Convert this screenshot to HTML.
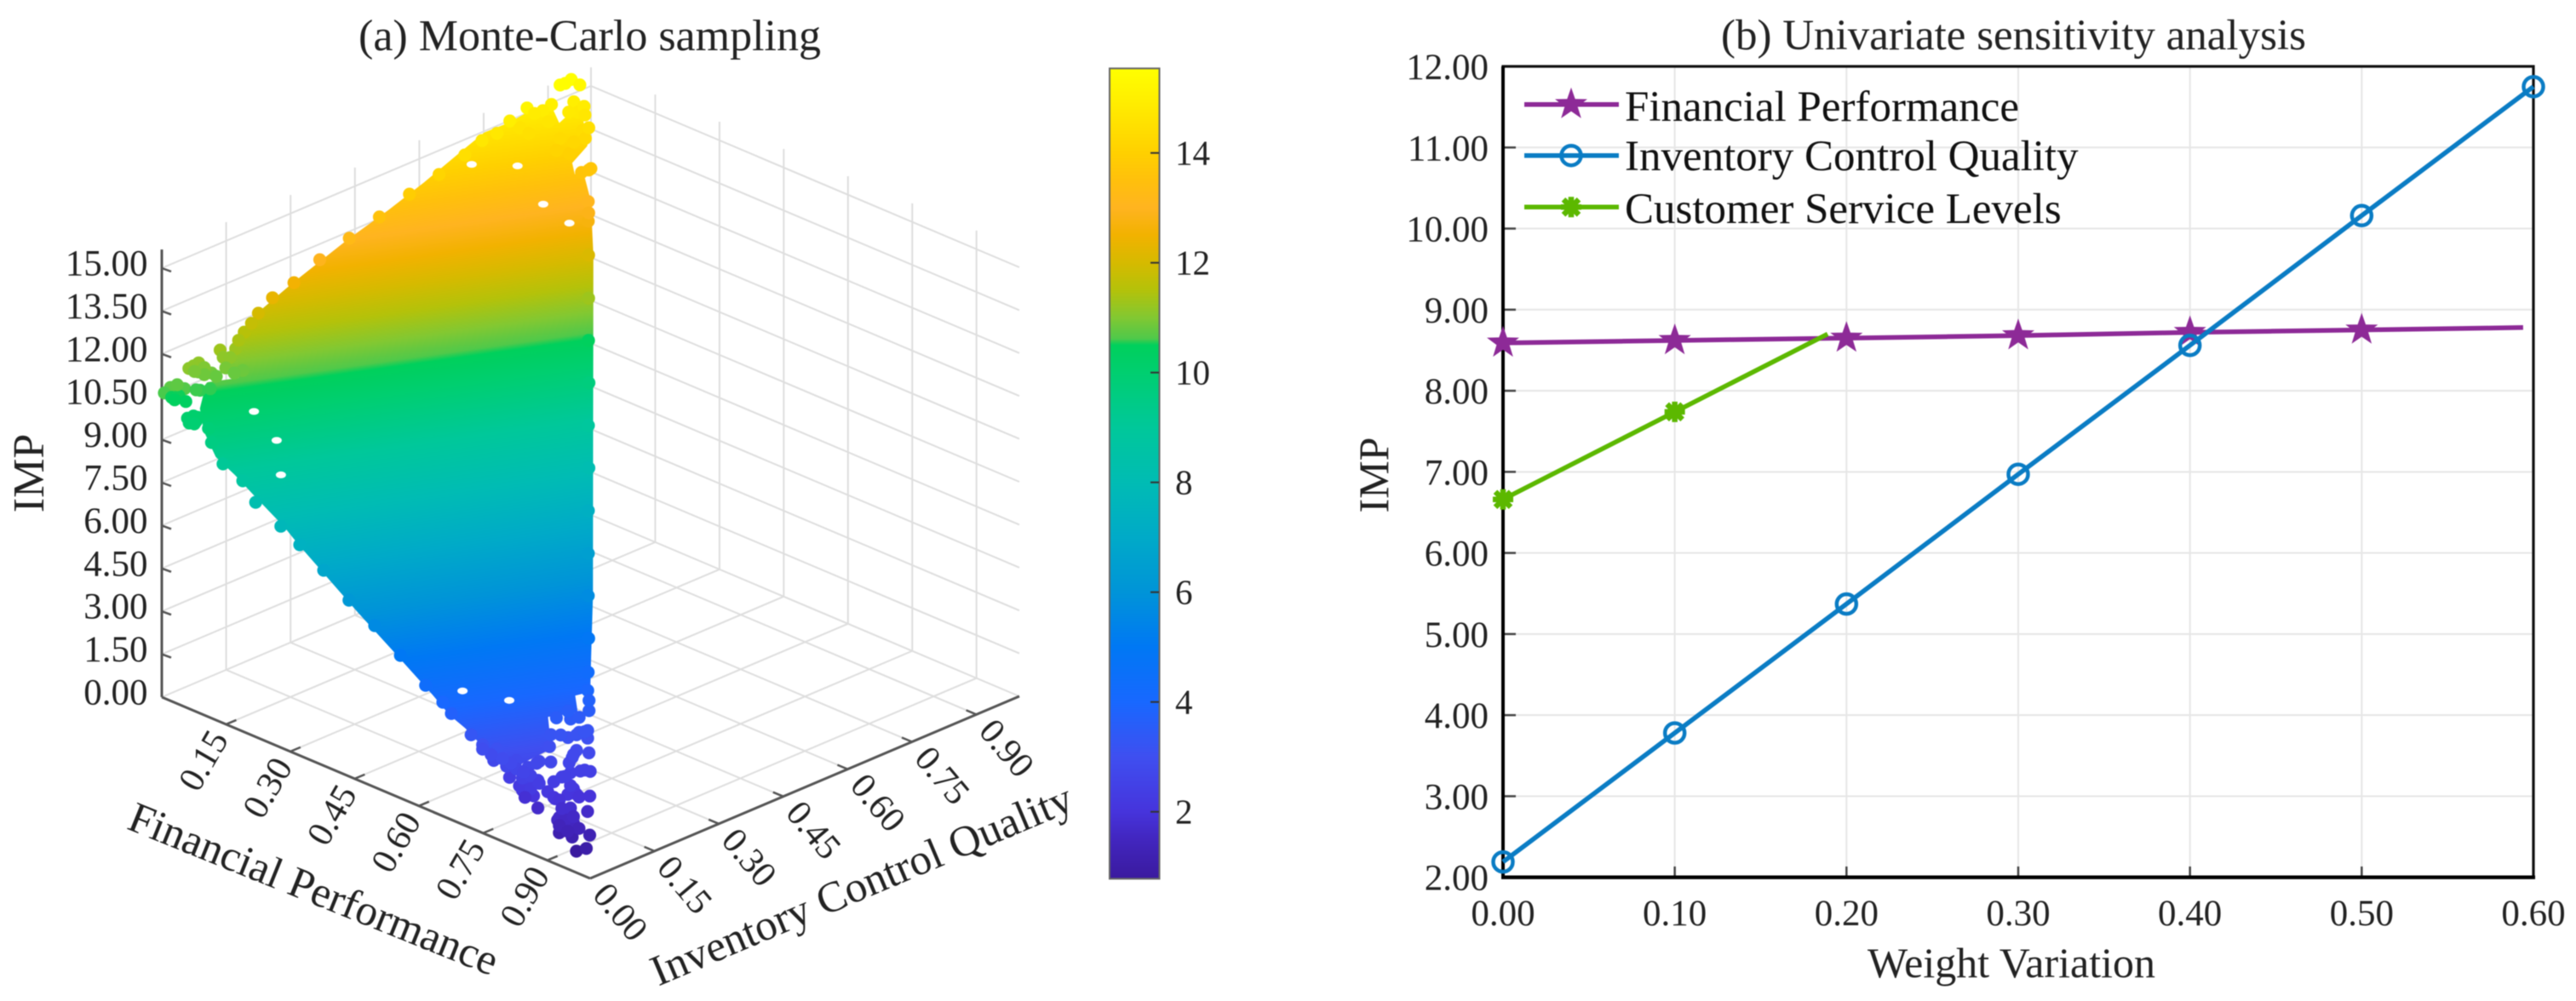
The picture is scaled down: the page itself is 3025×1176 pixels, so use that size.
<!DOCTYPE html>
<html lang="en">
<head>
<meta charset="utf-8">
<title>Monte-Carlo sampling and univariate sensitivity analysis</title>
<style>
html,body{margin:0;padding:0;background:#fff;width:3025px;height:1176px;overflow:hidden}
svg{display:block;filter:blur(.6px)}
text{font-family:"Liberation Serif",serif;fill:#222}
</style>
</head>
<body>
<svg id="figure" xmlns="http://www.w3.org/2000/svg" width="3025" height="1176" viewBox="0 0 3025 1176">
  <defs>
    <linearGradient id="cloud-gradient" gradientUnits="userSpaceOnUse"></linearGradient>
    <linearGradient id="colorbar-gradient" gradientUnits="userSpaceOnUse"></linearGradient>
  </defs>
  <g id="panel-a">
    <text x="421" y="59" font-size="52">(a) Monte-Carlo sampling</text>
    <g id="a-grid" stroke="#dedede" stroke-width="2" fill="none"></g>
    <g id="a-axes" stroke="#555" fill="none"></g>
    <g id="a-ticklabels"></g>
    <g id="a-cloud"></g>
    <text font-size="52" text-anchor="middle" transform="translate(51 556) rotate(-90)">IMP</text>
    <text font-size="51" text-anchor="middle" dominant-baseline="central" transform="translate(368 1045) rotate(22)">Financial Performance</text>
    <text font-size="51" text-anchor="middle" dominant-baseline="central" transform="translate(1012 1040) rotate(-23)">Inventory Control Quality</text>
    <g id="a-colorbar"></g>
  </g>
  <g id="panel-b">
    <text x="2021" y="58" font-size="51">(b) Univariate sensitivity analysis</text>
    <g id="b-grid" stroke="#e6e6e6" stroke-width="2"></g>
    <g id="b-ticks" stroke="#444" stroke-width="2.5"></g>
    <g id="b-labels"></g>
    <rect x="1765" y="78" width="1210" height="952.7" fill="none" stroke="#111" stroke-width="3.2"></rect>
    <line x1="1765" y1="78" x2="1765" y2="1032" stroke="#000" stroke-width="4"></line>
    <line x1="1763" y1="1030.7" x2="2977" y2="1030.7" stroke="#000" stroke-width="4.4"></line>
    <g id="b-series"></g>
    <g id="b-legend">
      <text x="1908" y="142" font-size="51" style="fill:#111">Financial Performance</text>
      <text x="1908" y="200" font-size="51" style="fill:#111">Inventory Control Quality</text>
      <text x="1908" y="262" font-size="51" style="fill:#111">Customer Service Levels</text>
    </g>
    <text font-size="50" text-anchor="middle" transform="translate(1630 558) rotate(-90)">IMP</text>
    <text x="2362" y="1148" font-size="50" text-anchor="middle">Weight Variation</text>
  </g>
</svg>
<script>
/* ---------- Panel (a): axis ticks ---------- */
const weightTicks = [0.15, 0.30, 0.45, 0.60, 0.75, 0.90];
const inventoryTicks = [0.00, 0.15, 0.30, 0.45, 0.60, 0.75, 0.90];
const impTicks = [0, 1.5, 3, 4.5, 6, 7.5, 9, 10.5, 12, 13.5, 15];
const colorbarTicks = [2, 4, 6, 8, 10, 12, 14];
const impTop = 15.65;
const colorMin = 0.78;
const colorMax = 15.54;

/* Three corners of the sampled plane (read from the left, top and bottom tips) */
const cornerF = [0, 0, 1];
const cornerI = [0, 1, 0];
const cornerImp = [10.6, 15.5, 0.9];

/* Colour scale */
const scaleImp = [0.78, 1.5, 2, 3, 4, 5, 6, 7, 8, 9, 10, 10.5, 10.62, 11, 11.5, 12, 12.5, 13, 13.5, 14, 14.5, 15, 15.54];
const scaleHex = ['#3a1a9e','#4226bf','#4634dc','#3f4ff0','#1868ff','#0078f4','#0094d8','#00aac8','#00bcb4','#00c89a','#00cf70','#00d05c','#50c94a','#82c832','#b4c20a','#d6ba00','#f2b200','#ffb420','#ffc00c','#ffd000','#ffe000','#fff000','#ffff00'];

/* Outline of the dense, fully overlapping part of the sample cloud */
const envelopeF = [.089,.058,.033,.06,.019,.003,0,0,0,0,0,0,0,0,0,.009,.04,.038,.045,.088,.095,.118,.123,.163,.235,.344,.453,.562,.671,.746,.789,.779,.803,.78,.804,.824,.816,.781,.748,.712,.676,.636,.545,.463,.322,.292,.221,.175,.131];
const envelopeI = [.0145,.037,.076,.129,.14,.196,.231,.308,.433,.535,.616,.702,.755,.815,.859,.896,.884,.906,.929,.898,.855,.84,.855,.831,.765,.656,.547,.438,.329,.25,.205,.179,.161,.115,.095,.071,.019,0,0,0,0,0,0,0,0,0,0,0,0];
const envelopeImp = [9.81,10.22,10.65,10.65,11.1,11.53,11.95,12.44,13.13,13.59,14.02,14.55,14.86,14.84,14.94,14.9,14.55,14.67,14.71,14.15,13.86,13.57,13.59,13.09,12.07,10.48,8.89,7.29,5.7,4.59,3.95,3.92,3.6,3.6,3.27,2.96,2.78,2.84,3.16,3.5,3.72,4.18,5.12,5.94,7.46,7.83,8.49,8.94,9.28];

/* Individually visible samples: bottom tip, top tip, left tip, lower edge, upper edge, right edge, then extra left, bottom and top samples */
const sampleF = [
 .968,.991,.958,.977,.928,.941,.946,.924,.93,.958,.945,.878,.927,.902,.904,.897,.881,.868,.842,.847,.857,.812,.874,.876,.879,.886,.896,.871,.861,.865,.856,.846,.834,.831,.851,.841,.831,.835,.825,.811,.817,.79,.805,.775,.749,.722,.676,.656,.811,.777,
 0,0,.006,0,.031,.022,.039,.03,.004,.004,0,0,0,.004,0,.067,.08,.084,.056,.023,.074,.068,.124,.12,.164,.189,.019,
 0,.001,.014,.015,.019,.033,.062,.056,.068,0,0,.007,.021,.032,.04,0,.029,.048,0,.013,.11,.089,
 .143,.189,.219,.278,.322,.378,.437,.497,.557,.616,
 0,0,0,0,0,0,0,0,0,0,
 .07,.124,.179,.233,.288,.342,.397,.451,.506,.56,.615,.669,.724,.767,
 .059,.064,.064,.07,0,.007,.016,.03,.003,.012,.019,.005,.028,.043,0,.003,.028,.02,
 .835,.861,.848,.839,.844,.822,.834,.833,.862,.809,.795,.769,.749,.894,.903,.912,.895,.918,.925,.934,.924,.938,.916,.928,.948,.878,.889,.858,.836,.84,.821,.795,.81,.816,.797,.804,
 .038,.05];
const sampleI = [
 0,0,0,.022,0,0,.015,0,.018,.016,.049,0,.072,.059,.044,.021,.02,0,0,.005,.021,0,.041,.058,.075,.091,.104,.126,.097,.086,.112,.062,.047,.024,.143,.153,.117,.139,.08,.097,.18,.204,0,0,0,0,0,0,.017,.005,
 .954,.928,.968,.94,.933,.938,.931,.918,.904,.884,.851,.868,.811,.831,.781,.913,.907,.866,.872,.878,.886,.852,.876,.858,.83,.805,.836,
 .02,.005,.009,.038,.021,.023,.008,.004,.012,.063,.086,.078,.095,.057,.073,.136,.127,.141,.192,.159,.006,.02,
 0,0,0,0,0,0,0,0,0,0,
 .225,.258,.308,.368,.437,.507,.577,.646,.706,.746,
 .925,.871,.816,.762,.707,.653,.599,.544,.49,.435,.38,.326,.272,.228,
 .015,0,.019,.006,.074,.092,.083,.097,.073,.131,.14,.174,.121,.126,.209,.033,.052,.01,
 0,0,0,.003,.017,.006,.041,.012,.019,.006,0,0,0,.021,.025,.056,.059,.056,.003,.007,.03,.023,.018,0,0,.063,.098,.103,.132,.147,.11,.126,.144,.158,.151,.193,
 .946,.936];
const sampleImp = [
 .75,.99,1.18,1.23,1.14,1.47,1.5,1.56,1.67,1.38,1.68,1.69,1.96,2.14,2.05,2.0,2.15,2.05,2.08,2.41,2.39,2.34,2.32,2.39,2.45,2.45,2.42,2.77,2.73,2.64,2.85,2.7,2.74,2.66,3.05,3.19,3.11,3.18,2.99,3.21,3.56,3.94,2.69,2.7,3.08,3.26,3.71,3.98,2.82,3.08,
 15.52,15.49,15.28,15.47,14.87,14.98,14.78,14.8,14.99,14.9,15.18,14.88,14.98,14.63,14.74,14.42,14.27,14.02,14.33,14.68,14.23,14.12,13.69,13.64,13.08,12.71,14.51,
 10.7,10.61,10.51,10.64,10.52,10.4,10.04,10.08,10.0,11.09,11.14,10.92,10.86,10.57,10.57,11.27,10.94,10.83,11.54,11.25,9.56,9.83,
 9.06,8.76,8.2,7.74,7.37,6.83,6.16,5.65,4.99,4.32,
 11.99,12.32,12.53,12.95,13.26,13.56,13.91,14.16,14.46,14.71,
 14.46,13.67,12.87,12.08,11.27,10.48,9.69,8.89,8.1,7.3,6.5,5.71,4.91,4.28,
 10.11,9.99,10.07,9.96,11.11,10.98,10.85,10.79,10.94,11.12,11.1,11.4,10.92,10.8,11.74,10.73,10.59,10.46,
 2.19,2.25,1.87,2.47,2.5,2.66,2.71,2.58,2.33,2.78,2.89,2.86,2.93,2.03,1.97,2.03,2.21,1.97,1.64,1.57,1.79,1.62,1.8,1.39,1.32,2.39,2.46,2.78,3.14,3.18,3.18,3.51,3.45,3.46,3.6,3.75,
 14.87,14.71];

/* Largest visible gaps in the cloud */
const gapF = [.111,.17,.218,.004,.05,.124,.173,.67,.727];
const gapI = [.104,.098,.06,.718,.779,.765,.777,.032,.084];
const gapImp = [10.03,9.43,8.77,14.08,13.93,13.15,12.72,4.26,3.96];

/* ---------- Panel (b): values ---------- */
const bTickX = [0, 0.1, 0.2, 0.3, 0.4, 0.5, 0.6];
const bTickY = [2, 3, 4, 5, 6, 7, 8, 9, 10, 11, 12];
const financialX = [0, 0.1, 0.2, 0.3, 0.4, 0.5, 0.594];
const financialY = [8.59, 8.62, 8.65, 8.68, 8.72, 8.75, 8.78];
const inventoryX = [0, 0.1, 0.2, 0.3, 0.4, 0.5, 0.6];
const inventoryY = [2.19, 3.78, 5.37, 6.97, 8.56, 10.16, 11.75];
const customerX = [0, 0.1, 0.189];
const customerY = [6.66, 7.74, 8.70];

/* ---------- Helpers ---------- */
const NS = 'http://www.w3.org/2000/svg';
function mk(tag, attrs, parent) {
  const el = document.createElementNS(NS, tag);
  for (const k in attrs) el.setAttribute(k, attrs[k]);
  parent.appendChild(el);
  return el;
}
const $ = id => document.getElementById(id);

/* 3D projection axis function: financial, inventory, IMP -> screen */
function project(f, i, z) {
  return { x: 190 + 503 * f + 504 * i, y: 819 + 213 * f - 214 * i - 33.6 * z };
}
function hexToRgb(h) {
  return [parseInt(h.slice(1, 3), 16), parseInt(h.slice(3, 5), 16), parseInt(h.slice(5, 7), 16)];
}
function colorOf(z) {
  if (z <= scaleImp[0]) return scaleHex[0];
  for (let k = 1; k < scaleImp.length; k++) {
    if (z <= scaleImp[k]) {
      const t = (z - scaleImp[k - 1]) / (scaleImp[k] - scaleImp[k - 1]);
      const a = hexToRgb(scaleHex[k - 1]), b = hexToRgb(scaleHex[k]);
      return 'rgb(' + a.map((v, n) => Math.round(v + (b[n] - v) * t)).join(',') + ')';
    }
  }
  return scaleHex[scaleHex.length - 1];
}
function fillStops(grad) {
  scaleImp.forEach((z, k) => {
    mk('stop', { offset: (z - colorMin) / (colorMax - colorMin), 'stop-color': scaleHex[k] }, grad);
  });
}

/* ---------- Panel (a): grid ---------- */
const aGrid = $('a-grid');
function gridLine(p, q, name) {
  const ln = mk('line', { x1: p.x, y1: p.y, x2: q.x, y2: q.y }, aGrid);
  
  
}
gridLine(project(0, 0, 0), project(0, 1, 0), 'floor-back-left-edge');
gridLine(project(0, 1, 0), project(1, 1, 0), 'floor-back-right-edge');
gridLine(project(0, 1, 0), project(0, 1, impTop), 'back-corner-line');
weightTicks.forEach(v => {
  gridLine(project(v, 0, 0), project(v, 1, 0), 'floor-financial-grid-line');
  gridLine(project(v, 1, 0), project(v, 1, impTop), 'right-wall-vertical-grid-line');
  gridLine(project(0, v, 0), project(1, v, 0), 'floor-inventory-grid-line');
  gridLine(project(0, v, 0), project(0, v, impTop), 'left-wall-vertical-grid-line');
});
impTicks.filter(z => z > 0).forEach(z => {
  gridLine(project(0, 0, z), project(0, 1, z), 'left-wall-horizontal-grid-line');
  gridLine(project(0, 1, z), project(1, 1, z), 'right-wall-horizontal-grid-line');
});

/* ---------- Panel (a): axes, ticks, labels ---------- */
const aAxes = $('a-axes');
const aLabels = $('a-ticklabels');
function axisLine(p, q, width, name) {
  const ln = mk('line', { x1: p.x, y1: p.y, x2: q.x, y2: q.y, 'stroke-width': width }, aAxes);
  
  
}
axisLine(project(0, 0, 0), project(0, 0, impTop), 3, 'z-axis-line');
axisLine(project(0, 0, 0), project(1, 0, 0), 3, 'financial-axis-line');
axisLine(project(1, 0, 0), project(1, 1, 0), 3, 'inventory-axis-line');
impTicks.forEach(z => {
  const p = project(0, 0, z);
  if (z > 0) axisLine(p, { x: p.x + 11, y: p.y + 4 }, 2.5, 'z-axis-tick');
  const t = mk('text', { x: 173.5, y: p.y + 8.5, 'font-size': 43, 'text-anchor': 'end' }, aLabels);
  
  
  t.textContent = z.toFixed(2);
});
weightTicks.forEach(v => {
  const p = project(v, 0, 0);
  axisLine(p, { x: p.x + 12, y: p.y - 5 }, 2.5, 'financial-axis-tick');
  const cx = p.x - 26, cy = p.y + 43;
  const t = mk('text', { 'font-size': 42, 'text-anchor': 'middle', 'dominant-baseline': 'central', transform: 'translate(' + cx + ' ' + cy + ') rotate(-60)' }, aLabels);
  
  
  t.textContent = v.toFixed(2);
});
inventoryTicks.forEach(v => {
  const p = project(1, v, 0);
  if (v > 0) axisLine(p, { x: p.x - 12, y: p.y - 5 }, 2.5, 'inventory-axis-tick');
  const cx = p.x + 35, cy = p.y + 40;
  const t = mk('text', { 'font-size': 42, 'text-anchor': 'middle', 'dominant-baseline': 'central', transform: 'translate(' + cx + ' ' + cy + ') rotate(50)' }, aLabels);
  
  
  t.textContent = v.toFixed(2);
});

/* ---------- Panel (a): cloud ---------- */
/* Gradient direction follows the plane through the three corners, as seen on screen */
const cp = cornerF.map((f, k) => project(f, cornerI[k], cornerImp[k]));
const dx1 = cp[1].x - cp[0].x, dy1 = cp[1].y - cp[0].y, dz1 = cornerImp[1] - cornerImp[0];
const dx2 = cp[2].x - cp[0].x, dy2 = cp[2].y - cp[0].y, dz2 = cornerImp[2] - cornerImp[0];
const det = dx1 * dy2 - dx2 * dy1;
const gradA = (dz1 * dy2 - dz2 * dy1) / det;
const gradB = (dx1 * dz2 - dx2 * dz1) / det;
const gradN = gradA * gradA + gradB * gradB;
const cloudGrad = $('cloud-gradient');
cloudGrad.setAttribute('x1', cp[0].x + (colorMin - cornerImp[0]) * gradA / gradN);
cloudGrad.setAttribute('y1', cp[0].y + (colorMin - cornerImp[0]) * gradB / gradN);
cloudGrad.setAttribute('x2', cp[0].x + (colorMax - cornerImp[0]) * gradA / gradN);
cloudGrad.setAttribute('y2', cp[0].y + (colorMax - cornerImp[0]) * gradB / gradN);
fillStops(cloudGrad);

const aCloud = $('a-cloud');
const envelopePts = envelopeF.map((f, k) => {
  const p = project(f, envelopeI[k], envelopeImp[k]);
  return p.x.toFixed(1) + ',' + p.y.toFixed(1);
}).join(' ');
const envelope = mk('polygon', { points: envelopePts, fill: 'url(#cloud-gradient)', stroke: 'url(#cloud-gradient)', 'stroke-width': 6, 'stroke-linejoin': 'round' }, aCloud);



gapF.forEach((f, k) => {
  const p = project(f, gapI[k], gapImp[k]);
  const gap = mk('ellipse', { cx: p.x, cy: p.y, rx: 6, ry: 4, fill: '#fff' }, aCloud);
  
  
});
sampleF.forEach((f, k) => {
  const p = project(f, sampleI[k], sampleImp[k]);
  const dot = mk('circle', { cx: p.x.toFixed(1), cy: p.y.toFixed(1), r: 7.6, fill: colorOf(sampleImp[k]) }, aCloud);
  
  
});

/* ---------- Panel (a): colorbar ---------- */
function colorY(z) { return 437.7 - (z - 10) * 64.5; }
const barGrad = $('colorbar-gradient');
barGrad.setAttribute('x1', 0);
barGrad.setAttribute('x2', 0);
barGrad.setAttribute('y1', colorY(colorMin));
barGrad.setAttribute('y2', colorY(colorMax));
fillStops(barGrad);
const aBar = $('a-colorbar');
const barTop = colorY(colorMax), barBottom = colorY(colorMin);
const barRect = mk('rect', { x: 1303, y: barTop, width: 58.5, height: barBottom - barTop, fill: 'url(#colorbar-gradient)', stroke: '#666', 'stroke-width': 2 }, aBar);


colorbarTicks.forEach(z => {
  const y = colorY(z);
  const tick = mk('line', { x1: 1351, y1: y, x2: 1361, y2: y, stroke: '#333', 'stroke-width': 2 }, aBar);
  
  
  const t = mk('text', { x: 1380, y: y + 14, 'font-size': 41 }, aBar);
  
  
  t.textContent = String(z);
});

/* ---------- Panel (b) ---------- */
function xB(v) { return 1765 + v * 2016.7; }
function yB(v) { return 1030.7 - (v - 2) * 95.27; }
const bGrid = $('b-grid'), bTicks = $('b-ticks'), bLabels = $('b-labels');
bTickX.forEach(v => {
  const x = xB(v);
  if (v > 0 && v < 0.6) {
    const g = mk('line', { x1: x, y1: 78, x2: x, y2: 1030.7 }, bGrid);
    
    
    const tk = mk('line', { x1: x, y1: 1030.7, x2: x, y2: 1018 }, bTicks);
    
    
  }
  const t = mk('text', { x: x, y: 1087, 'font-size': 43, 'text-anchor': 'middle' }, bLabels);
  
  
  t.textContent = v.toFixed(2);
});
bTickY.forEach(v => {
  const y = yB(v);
  if (v > 2 && v < 12) {
    const g = mk('line', { x1: 1765, y1: y, x2: 2975, y2: y }, bGrid);
    
    
    const tk = mk('line', { x1: 1765, y1: y, x2: 1780, y2: y }, bTicks);
    
    
  }
  const t = mk('text', { x: 1748, y: y + 15, 'font-size': 43, 'text-anchor': 'end' }, bLabels);
  
  
  t.textContent = v.toFixed(2);
});

function starPath(cx, cy, R) {
  let d = '';
  for (let k = 0; k < 10; k++) {
    const r = k % 2 ? R * 0.4 : R;
    const a = -Math.PI / 2 + k * Math.PI / 5;
    d += (k ? 'L' : 'M') + (cx + r * Math.cos(a)).toFixed(1) + ' ' + (cy + r * Math.sin(a)).toFixed(1);
  }
  return d + 'Z';
}
function drawMarker(kind, cx, cy, color, parent) {
  if (kind === 'star') {
    const m = mk('path', { d: starPath(cx, cy, 20), fill: color }, parent);
    
    
  } else if (kind === 'circle') {
    const m = mk('circle', { cx: cx, cy: cy, r: 11.5, fill: 'none', stroke: color, 'stroke-width': 4.5 }, parent);
    
    
  } else {
    const m = mk('path', { d: 'M' + (cx - 12) + ' ' + cy + 'h24M' + cx + ' ' + (cy - 12) + 'v24M' + (cx - 9) + ' ' + (cy - 9) + 'l18 18M' + (cx - 9) + ' ' + (cy + 9) + 'l18 -18', fill: 'none', stroke: color, 'stroke-width': 6.5 }, parent);
    
    
  }
}
function isTenth(v) { return Math.abs(v * 10 - Math.round(v * 10)) < 1e-6; }
const bSeries = $('b-series');
function drawSeries(xs, ys, color, kind, name) {
  const pts = xs.map((x, k) => xB(x).toFixed(1) + ',' + yB(ys[k]).toFixed(1)).join(' ');
  const ln = mk('polyline', { points: pts, fill: 'none', stroke: color, 'stroke-width': 5.5 }, bSeries);
  
  
  xs.forEach((x, k) => {
    if (isTenth(x)) drawMarker(kind, xB(x), yB(ys[k]), color, bSeries);
  });
}
const purple = '#8d2a97', blue = '#0a7cc4', green = '#5cb800';
drawSeries(financialX, financialY, purple, 'star', 'financial-performance-line');
drawSeries(inventoryX, inventoryY, blue, 'circle', 'inventory-control-quality-line');
drawSeries(customerX, customerY, green, 'asterisk', 'customer-service-levels-line');

const bLegend = $('b-legend');
function legendKey(y, color, kind, name) {
  const ln = mk('line', { x1: 1790, y1: y, x2: 1901, y2: y, stroke: color, 'stroke-width': 5.5 }, bLegend);
  
  
  drawMarker(kind, 1845, y, color, bLegend);
}
legendKey(122.7, purple, 'star', 'legend-key-financial');
legendKey(182.7, blue, 'circle', 'legend-key-inventory');
legendKey(243.3, green, 'asterisk', 'legend-key-customer');
</script>
</body>
</html>
